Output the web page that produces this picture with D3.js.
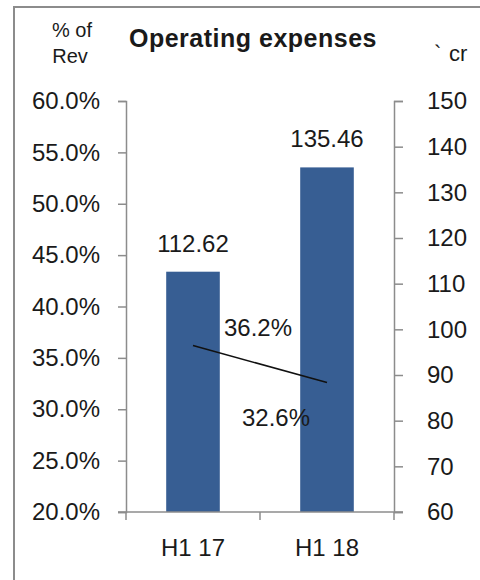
<!DOCTYPE html>
<html>
<head>
<meta charset="utf-8">
<script src="https://cdn.jsdelivr.net/npm/d3@7"></script>
<style>
  body { margin: 0; background: #fff; }
  text { font-family: "Liberation Sans", Arial, sans-serif; fill: #1a1a1a; }
</style>
</head>
<body>
<div id="chart"></div>
<script>
// chart data
const CATEGORIES = ["H1 17", "H1 18"];
const EXPENSES = [112.62, 135.46];       // ` cr, bars on right axis
const PCT_OF_REV = [36.2, 32.6];         // % of revenue, line on left axis
const LEFT_TICKS = [20, 25, 30, 35, 40, 45, 50, 55, 60];
const RIGHT_TICKS = [60, 70, 80, 90, 100, 110, 120, 130, 140, 150];

const WIDTH = 480, HEIGHT = 580;
const PLOT = {left: 126, right: 394, top: 101, bottom: 512};

const svg = d3.select("#chart").append("svg")
  .attr("width", WIDTH)
  .attr("height", HEIGHT);

// outer frame (only left / top edges show)
svg.append("path")
  .attr("d", `M14,${HEIGHT + 5} L14,7 L${WIDTH + 5},7`)
  .attr("fill", "none")
  .attr("stroke", "#8c8c8c")
  .attr("stroke-width", 2);

// scales
const x = d3.scaleBand()
  .domain(CATEGORIES)
  .range([PLOT.left, PLOT.right])
  .paddingInner(0.6)
  .paddingOuter(0.3);

const yLeft = d3.scaleLinear().domain([20, 60]).range([PLOT.bottom, PLOT.top]);
const yRight = d3.scaleLinear().domain([60, 150]).range([PLOT.bottom, PLOT.top]);

const cx = d => x(d) + x.bandwidth() / 2;

// bars
svg.selectAll(".bar")
  .data(CATEGORIES)
  .enter().append("rect")
  .attr("class", "bar")
  .attr("x", d => x(d))
  .attr("width", x.bandwidth())
  .attr("y", (d, i) => yRight(EXPENSES[i]))
  .attr("height", (d, i) => PLOT.bottom - yRight(EXPENSES[i]))
  .attr("fill", "#375e93");

// bar value labels
svg.selectAll(".barlabel")
  .data(CATEGORIES)
  .enter().append("text")
  .attr("x", d => cx(d))
  .attr("y", (d, i) => yRight(EXPENSES[i]) - 20)
  .attr("text-anchor", "middle")
  .style("font-size", "24px")
  .text((d, i) => EXPENSES[i].toFixed(2));

// axes
const axisColor = "#8c8c8c";
const gLeft = svg.append("g")
  .attr("transform", `translate(${PLOT.left},0)`)
  .call(d3.axisLeft(yLeft).tickValues(LEFT_TICKS).tickSize(8).tickPadding(18)
    .tickFormat(d => d.toFixed(1) + "%"));

const gRight = svg.append("g")
  .attr("transform", `translate(${PLOT.right},0)`)
  .call(d3.axisRight(yRight).tickValues(RIGHT_TICKS).tickSize(9).tickPadding(24));

// x axis: ticks at band edges
const xEdges = [PLOT.left, (PLOT.left + PLOT.right) / 2, PLOT.right];
const gBottom = svg.append("g");
gBottom.append("line")
  .attr("x1", PLOT.left - 8).attr("x2", PLOT.right + 9)
  .attr("y1", PLOT.bottom).attr("y2", PLOT.bottom);
gBottom.selectAll(".xt")
  .data(xEdges)
  .enter().append("line")
  .attr("x1", d => d).attr("x2", d => d)
  .attr("y1", PLOT.bottom).attr("y2", PLOT.bottom + 8);
gBottom.selectAll("line").attr("stroke", axisColor).attr("stroke-width", 1.5);

gBottom.selectAll(".xlabel")
  .data(CATEGORIES)
  .enter().append("text")
  .attr("x", d => cx(d))
  .attr("y", 556)
  .attr("text-anchor", "middle")
  .style("font-size", "24px")
  .text(d => d);

[gLeft, gRight].forEach(g => {
  g.select(".domain").attr("stroke", axisColor).attr("stroke-width", 1.5);
  g.selectAll(".tick line").attr("stroke", axisColor).attr("stroke-width", 1.5);
  g.selectAll(".tick text")
    .style("font-size", "24px")
    .attr("fill", "#1a1a1a")
    .attr("font-family", "Liberation Sans, Arial, sans-serif");
});

// % of revenue line
const line = d3.line()
  .x((d, i) => cx(CATEGORIES[i]))
  .y(d => yLeft(d));

svg.append("path")
  .datum(PCT_OF_REV)
  .attr("fill", "none")
  .attr("stroke", "#111")
  .attr("stroke-width", 1.5)
  .attr("d", line);

// line labels (first above-right, second below-left)
const pctOffsets = [{dx: 65, dy: -10}, {dx: -51, dy: 43}];
svg.selectAll(".pctlabel")
  .data(PCT_OF_REV)
  .enter().append("text")
  .attr("x", (d, i) => cx(CATEGORIES[i]) + pctOffsets[i].dx)
  .attr("y", (d, i) => yLeft(d) + pctOffsets[i].dy)
  .attr("text-anchor", "middle")
  .style("font-size", "24px")
  .text(d => d.toFixed(1) + "%");

// title and axis captions
svg.append("text")
  .attr("x", 253).attr("y", 47)
  .attr("text-anchor", "middle")
  .style("font-size", "25px")
  .style("letter-spacing", "0.5px")
  .style("font-weight", "bold")
  .text("Operating expenses");

svg.append("text")
  .attr("x", 72).attr("y", 37)
  .attr("text-anchor", "middle")
  .style("font-size", "20px")
  .text("% of");
svg.append("text")
  .attr("x", 70).attr("y", 63)
  .attr("text-anchor", "middle")
  .style("font-size", "20px")
  .text("Rev");

svg.append("text")
  .attr("x", 434).attr("y", 61)
  .style("font-size", "22px")
  .text("`");
svg.append("text")
  .attr("x", 449).attr("y", 61)
  .style("font-size", "22px")
  .text("cr");
</script>
</body>
</html>
